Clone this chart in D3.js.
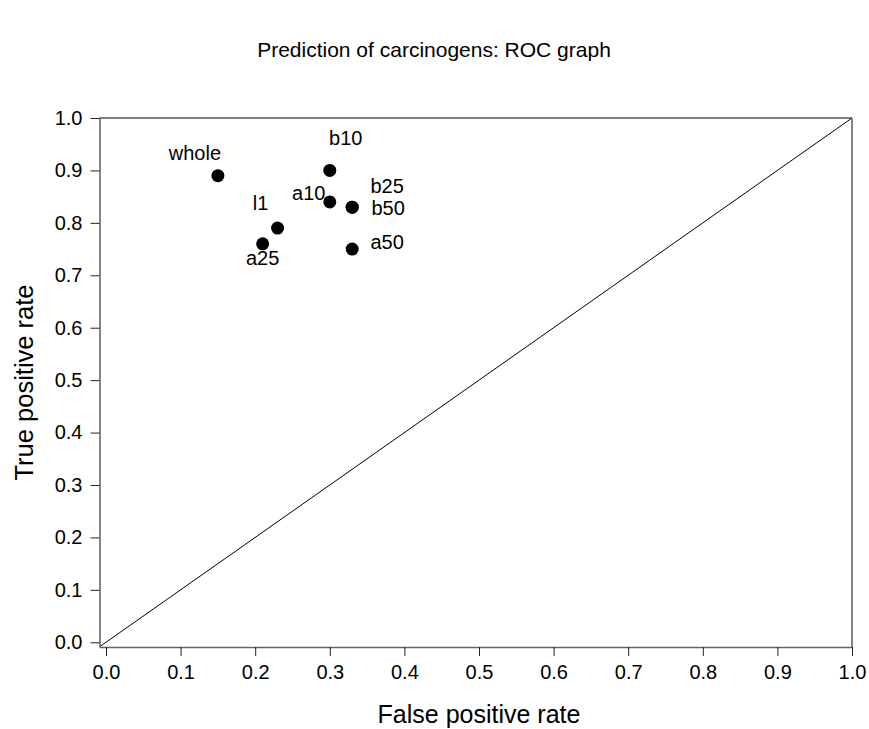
<!DOCTYPE html>
<html>
<head>
<meta charset="utf-8">
<script src="https://cdn.jsdelivr.net/npm/d3@7"></script>
<style>
  body { margin: 0; background: #fff; }
  text { font-family: "Liberation Sans", Arial, sans-serif; fill: #000; }
</style>
</head>
<body>
<div data-viz="wrapper"></div>
<script>
// values
const pointLabels = ["whole", "b10", "a10", "b25", "b50", "l1", "a25", "a50"]
const falsePositive = [0.15, 0.30, 0.30, 0.33, 0.33, 0.23, 0.21, 0.33]
const truePositive = [0.89, 0.90, 0.84, 0.83, 0.83, 0.79, 0.76, 0.75]
const xTickValues = [0.0, 0.1, 0.2, 0.3, 0.4, 0.5, 0.6, 0.7, 0.8, 0.9, 1.0]
const yTickValues = [0.0, 0.1, 0.2, 0.3, 0.4, 0.5, 0.6, 0.7, 0.8, 0.9, 1.0]
const chanceLine = [0.0, 1.0]

// hand placed label offsets (px from the dot), like in the original
const labelDx = [-23, 16, -21, 35, 36, -17, 0, 35]
const labelDy = [-16, -25, -2, -14, 8, -18, 21, 0]

const points = pointLabels.map((label, i) => ({
  label,
  fpr: falsePositive[i],
  tpr: truePositive[i],
  dx: labelDx[i],
  dy: labelDy[i],
}))

const dimensions = {
  width: 869,
  height: 729,
  margin: { top: 118, right: 17, bottom: 82, left: 99.5 },
}
dimensions.boundedWidth = dimensions.width - dimensions.margin.left - dimensions.margin.right
dimensions.boundedHeight = dimensions.height - dimensions.margin.top - dimensions.margin.bottom

const xAccessor = d => d.fpr
const yAccessor = d => d.tpr

// axes start slightly below zero, as in the original
const xScale = d3.scaleLinear()
  .domain([-0.0087, 1.0])
  .range([0, dimensions.boundedWidth])
const yScale = d3.scaleLinear()
  .domain([-0.009, 1.0])
  .range([dimensions.boundedHeight, 0])

const svg = d3.select("[data-viz='wrapper']").append("svg")
  .attr("width", dimensions.width)
  .attr("height", dimensions.height)

const bounds = svg.append("g")
  .attr("transform", `translate(${dimensions.margin.left},${dimensions.margin.top})`)

svg.append("text")
  .attr("x", 434)
  .attr("y", 57)
  .attr("text-anchor", "middle")
  .style("font-size", "21px")
  .text("Prediction of carcinogens: ROC graph")

// **************************
// chance diagonal
// **************************
bounds.append("clipPath").attr("id", "plot-clip")
  .append("rect")
  .attr("width", dimensions.boundedWidth)
  .attr("height", dimensions.boundedHeight)

const diagonalLine = d3.line()
  .x(d => xScale(d))
  .y(d => yScale(d))

bounds.append("path")
  .attr("clip-path", "url(#plot-clip)")
  .attr("d", diagonalLine([xScale.domain()[0], ...chanceLine]))
  .attr("fill", "none")
  .attr("stroke", "#000")
  .attr("stroke-width", 1)

// **************************
// axes
// **************************
const xAxisGenerator = d3.axisBottom(xScale)
  .tickValues(xTickValues)
  .tickFormat(d3.format(".1f"))
  .tickSize(9)
  .tickPadding(9)
  .tickSizeOuter(0)

const yAxisGenerator = d3.axisLeft(yScale)
  .tickValues(yTickValues)
  .tickFormat(d3.format(".1f"))
  .tickSize(9)
  .tickPadding(8)
  .tickSizeOuter(0)

const xAxis = bounds.append("g")
  .attr("transform", `translate(0,${dimensions.boundedHeight})`)
  .call(xAxisGenerator)
const yAxis = bounds.append("g")
  .call(yAxisGenerator)

for (const axis of [xAxis, yAxis]) {
  axis.select(".domain").attr("stroke", "#666").attr("stroke-width", 1.6)
  axis.selectAll(".tick line").attr("stroke", "#222")
  axis.selectAll(".tick text")
    .style("font-size", "20px")
    .attr("fill", "#000")
    .style("font-family", "'Liberation Sans', Arial, sans-serif")
}

// frame: top black, right grey
bounds.append("line")
  .attr("x1", 0).attr("x2", dimensions.boundedWidth)
  .attr("y1", 0).attr("y2", 0)
  .attr("stroke", "#000")
bounds.append("line")
  .attr("x1", dimensions.boundedWidth).attr("x2", dimensions.boundedWidth)
  .attr("y1", 0).attr("y2", dimensions.boundedHeight)
  .attr("stroke", "#666").attr("stroke-width", 1.6)

xAxis.append("text")
  .attr("x", (xScale(0) + xScale(1)) / 2)
  .attr("y", 76)
  .attr("text-anchor", "middle")
  .style("font-size", "25px")
  .attr("fill", "#000")
  .text("False positive rate")

yAxis.append("text")
  .attr("transform", "rotate(-90)")
  .attr("x", -dimensions.boundedHeight / 2)
  .attr("y", -67)
  .attr("text-anchor", "middle")
  .style("font-size", "25.5px")
  .attr("fill", "#000")
  .text("True positive rate")

// **************************
// points and labels
// **************************
bounds.selectAll(".dot")
  .data(points)
  .join("circle")
  .attr("class", "dot")
  .attr("cx", d => xScale(xAccessor(d)))
  .attr("cy", d => yScale(yAccessor(d)))
  .attr("r", 6.5)
  .attr("fill", "#000")

bounds.selectAll(".point-label")
  .data(points)
  .join("text")
  .attr("class", "point-label")
  .attr("x", d => xScale(xAccessor(d)) + d.dx)
  .attr("y", d => yScale(yAccessor(d)) + d.dy)
  .attr("text-anchor", "middle")
  .style("font-size", "20px")
  .text(d => d.label)
</script>
</body>
</html>
